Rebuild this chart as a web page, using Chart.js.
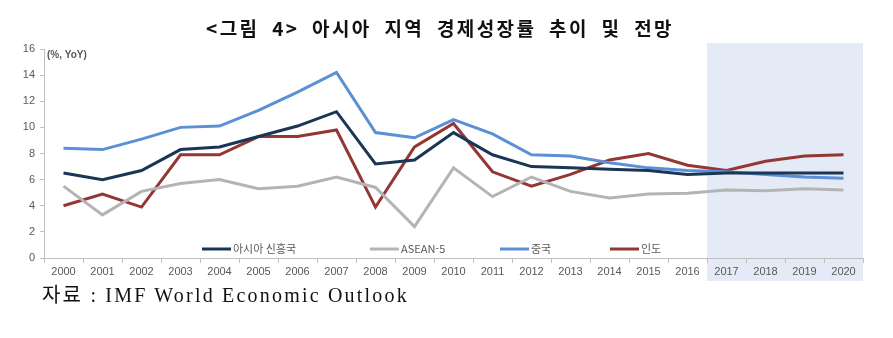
<!DOCTYPE html>
<html lang="ko">
<head>
<meta charset="utf-8">
<script src="https://cdn.jsdelivr.net/npm/chart.js@4.4.1/dist/chart.umd.min.js"></script>
<style>
    html, body { margin: 0; padding: 0; background: #fff; }
    .wrap { position: relative; width: 893px; height: 338px; overflow: hidden; }
    #chart { position: absolute; left: 0; top: 0; }
    .title {
        position: absolute; left: 0; width: 880px; top: 14px; text-align: center;
        font-family: "Noto Sans CJK KR", sans-serif; font-weight: 700; font-size: 19px;
        letter-spacing: 2.4px; word-spacing: 5px; color: #111;
    }
    .source {
        position: absolute; left: 42px; top: 279px;
        font-family: "Liberation Serif", "Noto Sans CJK KR", serif; font-size: 20px;
        letter-spacing: 2.2px; color: #111;
    }
</style>
</head>
<body>
<div class="wrap">
    <canvas id="chart" width="893" height="338"></canvas>
    <div class="title">&lt;그림 4&gt; 아시아 지역 경제성장률 추이 및 전망</div>
    <div class="source">자료 : IMF World Economic Outlook</div>
</div>
<script>
const years = ["2000", "2001", "2002", "2003", "2004", "2005", "2006", "2007", "2008", "2009", "2010",
    "2011", "2012", "2013", "2014", "2015", "2016", "2017", "2018", "2019", "2020"];
const forecastStart = "2017";

const asiaEmerging = [6.5, 6.0, 6.7, 8.3, 8.5, 9.3, 10.1, 11.2, 7.2, 7.5, 9.6, 7.9, 7.0, 6.9, 6.8, 6.7, 6.4, 6.5, 6.5, 6.5, 6.5];
const asean5 = [5.5, 3.3, 5.1, 5.7, 6.0, 5.3, 5.5, 6.2, 5.4, 2.4, 6.9, 4.7, 6.2, 5.1, 4.6, 4.9, 4.95, 5.2, 5.15, 5.3, 5.2];
const china = [8.4, 8.3, 9.1, 10.0, 10.1, 11.3, 12.7, 14.2, 9.6, 9.2, 10.6, 9.5, 7.9, 7.8, 7.3, 6.9, 6.7, 6.6, 6.4, 6.2, 6.1];
const india = [4.0, 4.9, 3.9, 7.9, 7.9, 9.3, 9.3, 9.8, 3.9, 8.5, 10.3, 6.6, 5.5, 6.4, 7.5, 8.0, 7.1, 6.7, 7.4, 7.8, 7.9];

const seriesLabels = ["아시아 신흥국", "ASEAN-5", "중국", "인도"];
const seriesColors = ["#1b3556", "#b4b4b4", "#5b8fd6", "#943634"];

const TICK_FONT = { family: "Liberation Sans, Arial, sans-serif", size: 11 };
const TICK_COLOR = "#595959";
const AXIS_COLOR = "#bfbfbf";

// light blue band behind the forecast years
const forecastBand = {
    id: "forecastBand",
    beforeDraw(chart) {
        const x = chart.scales.x;
        const idx = years.indexOf(forecastStart);
        const half = (x.getPixelForValue(1) - x.getPixelForValue(0)) / 2;
        const left = x.getPixelForValue(idx) - half;
        const ctx = chart.ctx;
        ctx.save();
        ctx.fillStyle = "#e4ebf6";
        ctx.fillRect(left, 43, chart.chartArea.right - left, 238);
        ctx.restore();
    },
};

// legend sits inside the plot, just above the x axis
const innerLegend = {
    id: "innerLegend",
    afterDatasetsDraw(chart) {
        const ctx = chart.ctx;
        const starts = [202, 370, 500, 610];
        const y = 249;
        ctx.save();
        ctx.font = "11px 'Noto Sans CJK KR', sans-serif";
        ctx.textBaseline = "middle";
        chart.data.datasets.forEach((ds, i) => {
            ctx.strokeStyle = ds.borderColor;
            ctx.lineWidth = 3;
            ctx.beginPath();
            ctx.moveTo(starts[i], y);
            ctx.lineTo(starts[i] + 29, y);
            ctx.stroke();
            ctx.fillStyle = TICK_COLOR;
            ctx.fillText(ds.label, starts[i] + 31, y);
        });
        ctx.fillStyle = TICK_COLOR;
        ctx.font = "bold 10px 'Liberation Sans', Arial, sans-serif";
        ctx.fillText("(%, YoY)", 47, 55);
        ctx.restore();
    },
};

const seriesData = [asiaEmerging, asean5, china, india];

new Chart(document.getElementById("chart"), {
    type: "line",
    data: {
        labels: years,
        datasets: seriesData.map((values, i) => ({
            label: seriesLabels[i],
            data: values,
            borderColor: seriesColors[i],
            backgroundColor: seriesColors[i],
            borderWidth: 3,
            pointRadius: 0,
            tension: 0,
        })),
    },
    options: {
        responsive: false,
        animation: false,
        layout: { padding: { left: 0, right: 30, top: 49, bottom: 55 } },
        plugins: { legend: { display: false }, tooltip: { enabled: false } },
        scales: {
            x: {
                offset: true,
                grid: { drawOnChartArea: false, offset: true, tickLength: 5, color: AXIS_COLOR },
                border: { color: AXIS_COLOR, width: 1 },
                ticks: { color: TICK_COLOR, font: TICK_FONT, maxRotation: 0, autoSkip: false, padding: 2 },
                afterFit: (s) => { s.height = 25; },
            },
            y: {
                min: 0,
                max: 16,
                grid: { drawOnChartArea: false, tickLength: 4, color: AXIS_COLOR },
                border: { color: AXIS_COLOR, width: 1 },
                ticks: { stepSize: 2, color: TICK_COLOR, font: TICK_FONT, padding: 5 },
                afterFit: (s) => { s.width = 44; },
            },
        },
    },
    plugins: [forecastBand, innerLegend],
});
</script>
</body>
</html>
